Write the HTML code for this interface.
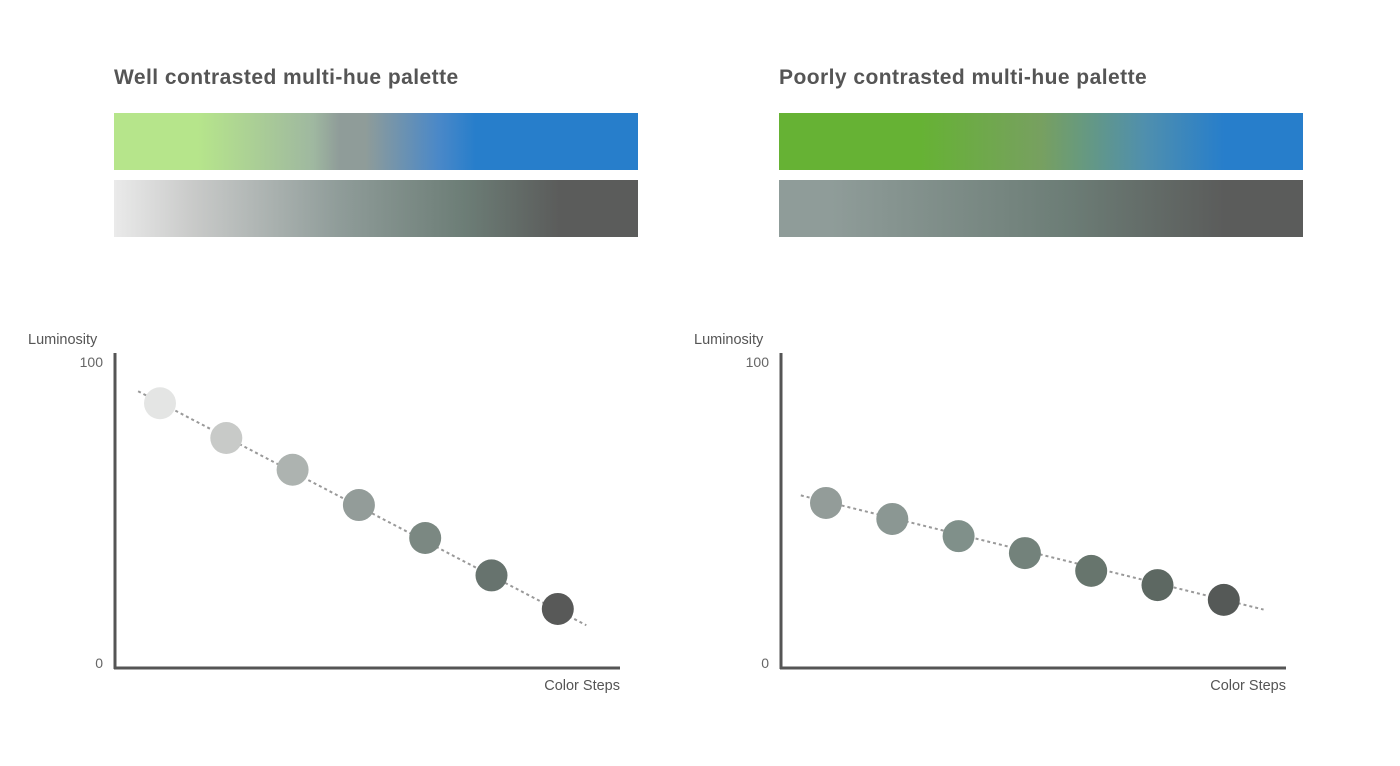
<!DOCTYPE html>
<html><head><meta charset="utf-8"><style>
body{margin:0;background:#fff;width:1400px;height:761px;overflow:hidden;font-family:"Liberation Sans",sans-serif}
</style></head><body>
<svg width="1400" height="761">
<defs>
<linearGradient id="g1" x1="0" x2="1"><stop offset="0" stop-color="#b6e58b"/><stop offset="0.16" stop-color="#b6e58b"/><stop offset="0.38" stop-color="#9fb8a0"/><stop offset="0.43" stop-color="#8f9c99"/><stop offset="0.48" stop-color="#8f9c99"/><stop offset="0.62" stop-color="#4a88c8"/><stop offset="0.69" stop-color="#277ecb"/><stop offset="1" stop-color="#277ecb"/></linearGradient>
<linearGradient id="g2" x1="0" x2="1"><stop offset="0" stop-color="#eaeaea"/><stop offset="0.15" stop-color="#c9cac9"/><stop offset="0.43" stop-color="#8f9c99"/><stop offset="0.67" stop-color="#6c7d76"/><stop offset="0.85" stop-color="#5b5c5b"/><stop offset="1" stop-color="#5b5c5b"/></linearGradient>
<linearGradient id="g3" x1="0" x2="1"><stop offset="0" stop-color="#66b234"/><stop offset="0.27" stop-color="#66b234"/><stop offset="0.5" stop-color="#77a060"/><stop offset="0.7" stop-color="#4f8fae"/><stop offset="0.85" stop-color="#277ecb"/><stop offset="1" stop-color="#277ecb"/></linearGradient>
<linearGradient id="g4" x1="0" x2="1"><stop offset="0" stop-color="#8f9c99"/><stop offset="0.1" stop-color="#8f9c99"/><stop offset="0.55" stop-color="#6c7d76"/><stop offset="0.85" stop-color="#5b5c5b"/><stop offset="1" stop-color="#5b5c5b"/></linearGradient>
</defs>
<text x="114" y="84" font-size="21" font-weight="bold" letter-spacing="0.45" fill="#555">Well contrasted multi-hue palette</text>
<text x="779" y="84" font-size="21" font-weight="bold" letter-spacing="0.45" fill="#555">Poorly contrasted multi-hue palette</text>
<rect x="114" y="113" width="524" height="57" fill="url(#g1)"/>
<rect x="114" y="180" width="524" height="57" fill="url(#g2)"/>
<rect x="779" y="113" width="524" height="57" fill="url(#g3)"/>
<rect x="779" y="180" width="524" height="57" fill="url(#g4)"/>
<g id="charts"></g>
</svg>
<script>
const steps=[1,2,3,4,5,6,7];
const leftValues=[86,74.5,64,52.3,41.4,29,17.9];
const rightValues=[53,47.7,42,36.4,30.5,25.8,20.9];
const leftColors=["#e4e5e4","#c8cac8","#adb3b0","#939c99","#7b8882","#67736e","#585958"];
const rightColors=["#939c99","#8b9793","#80908a","#73827b","#67756d","#5d6862","#555957"];
const leftTrend=[90,12.5];
const rightTrend=[55.5,17.7];
const leftTrendSteps=[0.67,7.43];
const rightTrendSteps=[0.62,7.6];
const NS="http://www.w3.org/2000/svg";
const g=document.getElementById('charts');
function mk(t,a,p){const e=document.createElementNS(NS,t);for(const k in a)e.setAttribute(k,a[k]);(p||g).appendChild(e);return e;}
function chart(ox,vals,cols,trend,tsteps,side){
  const yS=v=>663-v*3.02;
  const xS=s=>ox+45+(s-1)*66.3;
  const grp=mk('g',{});
  
  
  let t=mk('text',{x:ox-87,y:344,'font-size':14.5,fill:'#555'},grp);t.textContent='Luminosity';
  
  
  t=mk('text',{x:ox-12,y:367,'font-size':14,fill:'#666','text-anchor':'end'},grp);t.textContent='100';
  
  
  t=mk('text',{x:ox-12,y:668,'font-size':14,fill:'#666','text-anchor':'end'},grp);t.textContent='0';
  
  
  t=mk('text',{x:ox+505,y:690,'font-size':14.5,fill:'#555','text-anchor':'end'},grp);t.textContent='Color Steps';
  
  
  let l=mk('line',{x1:ox,y1:353,x2:ox,y2:669,stroke:'#555','stroke-width':3},grp);
  
  
  l=mk('line',{x1:ox-1,y1:668,x2:ox+505,y2:668,stroke:'#555','stroke-width':3},grp);
  
  
  l=mk('line',{x1:xS(tsteps[0]),y1:yS(trend[0]),x2:xS(tsteps[1]),y2:yS(trend[1]),stroke:'#999','stroke-width':2,'stroke-dasharray':'3 3'},grp);
  
  
  steps.forEach((s,i)=>{
    const c=mk('circle',{cx:xS(s),cy:yS(vals[i]),r:16,fill:cols[i]},grp);
    
    
  });
}
chart(115,leftValues,leftColors,leftTrend,leftTrendSteps,'left');
chart(781,rightValues,rightColors,rightTrend,rightTrendSteps,'right');
</script>
</body></html>
